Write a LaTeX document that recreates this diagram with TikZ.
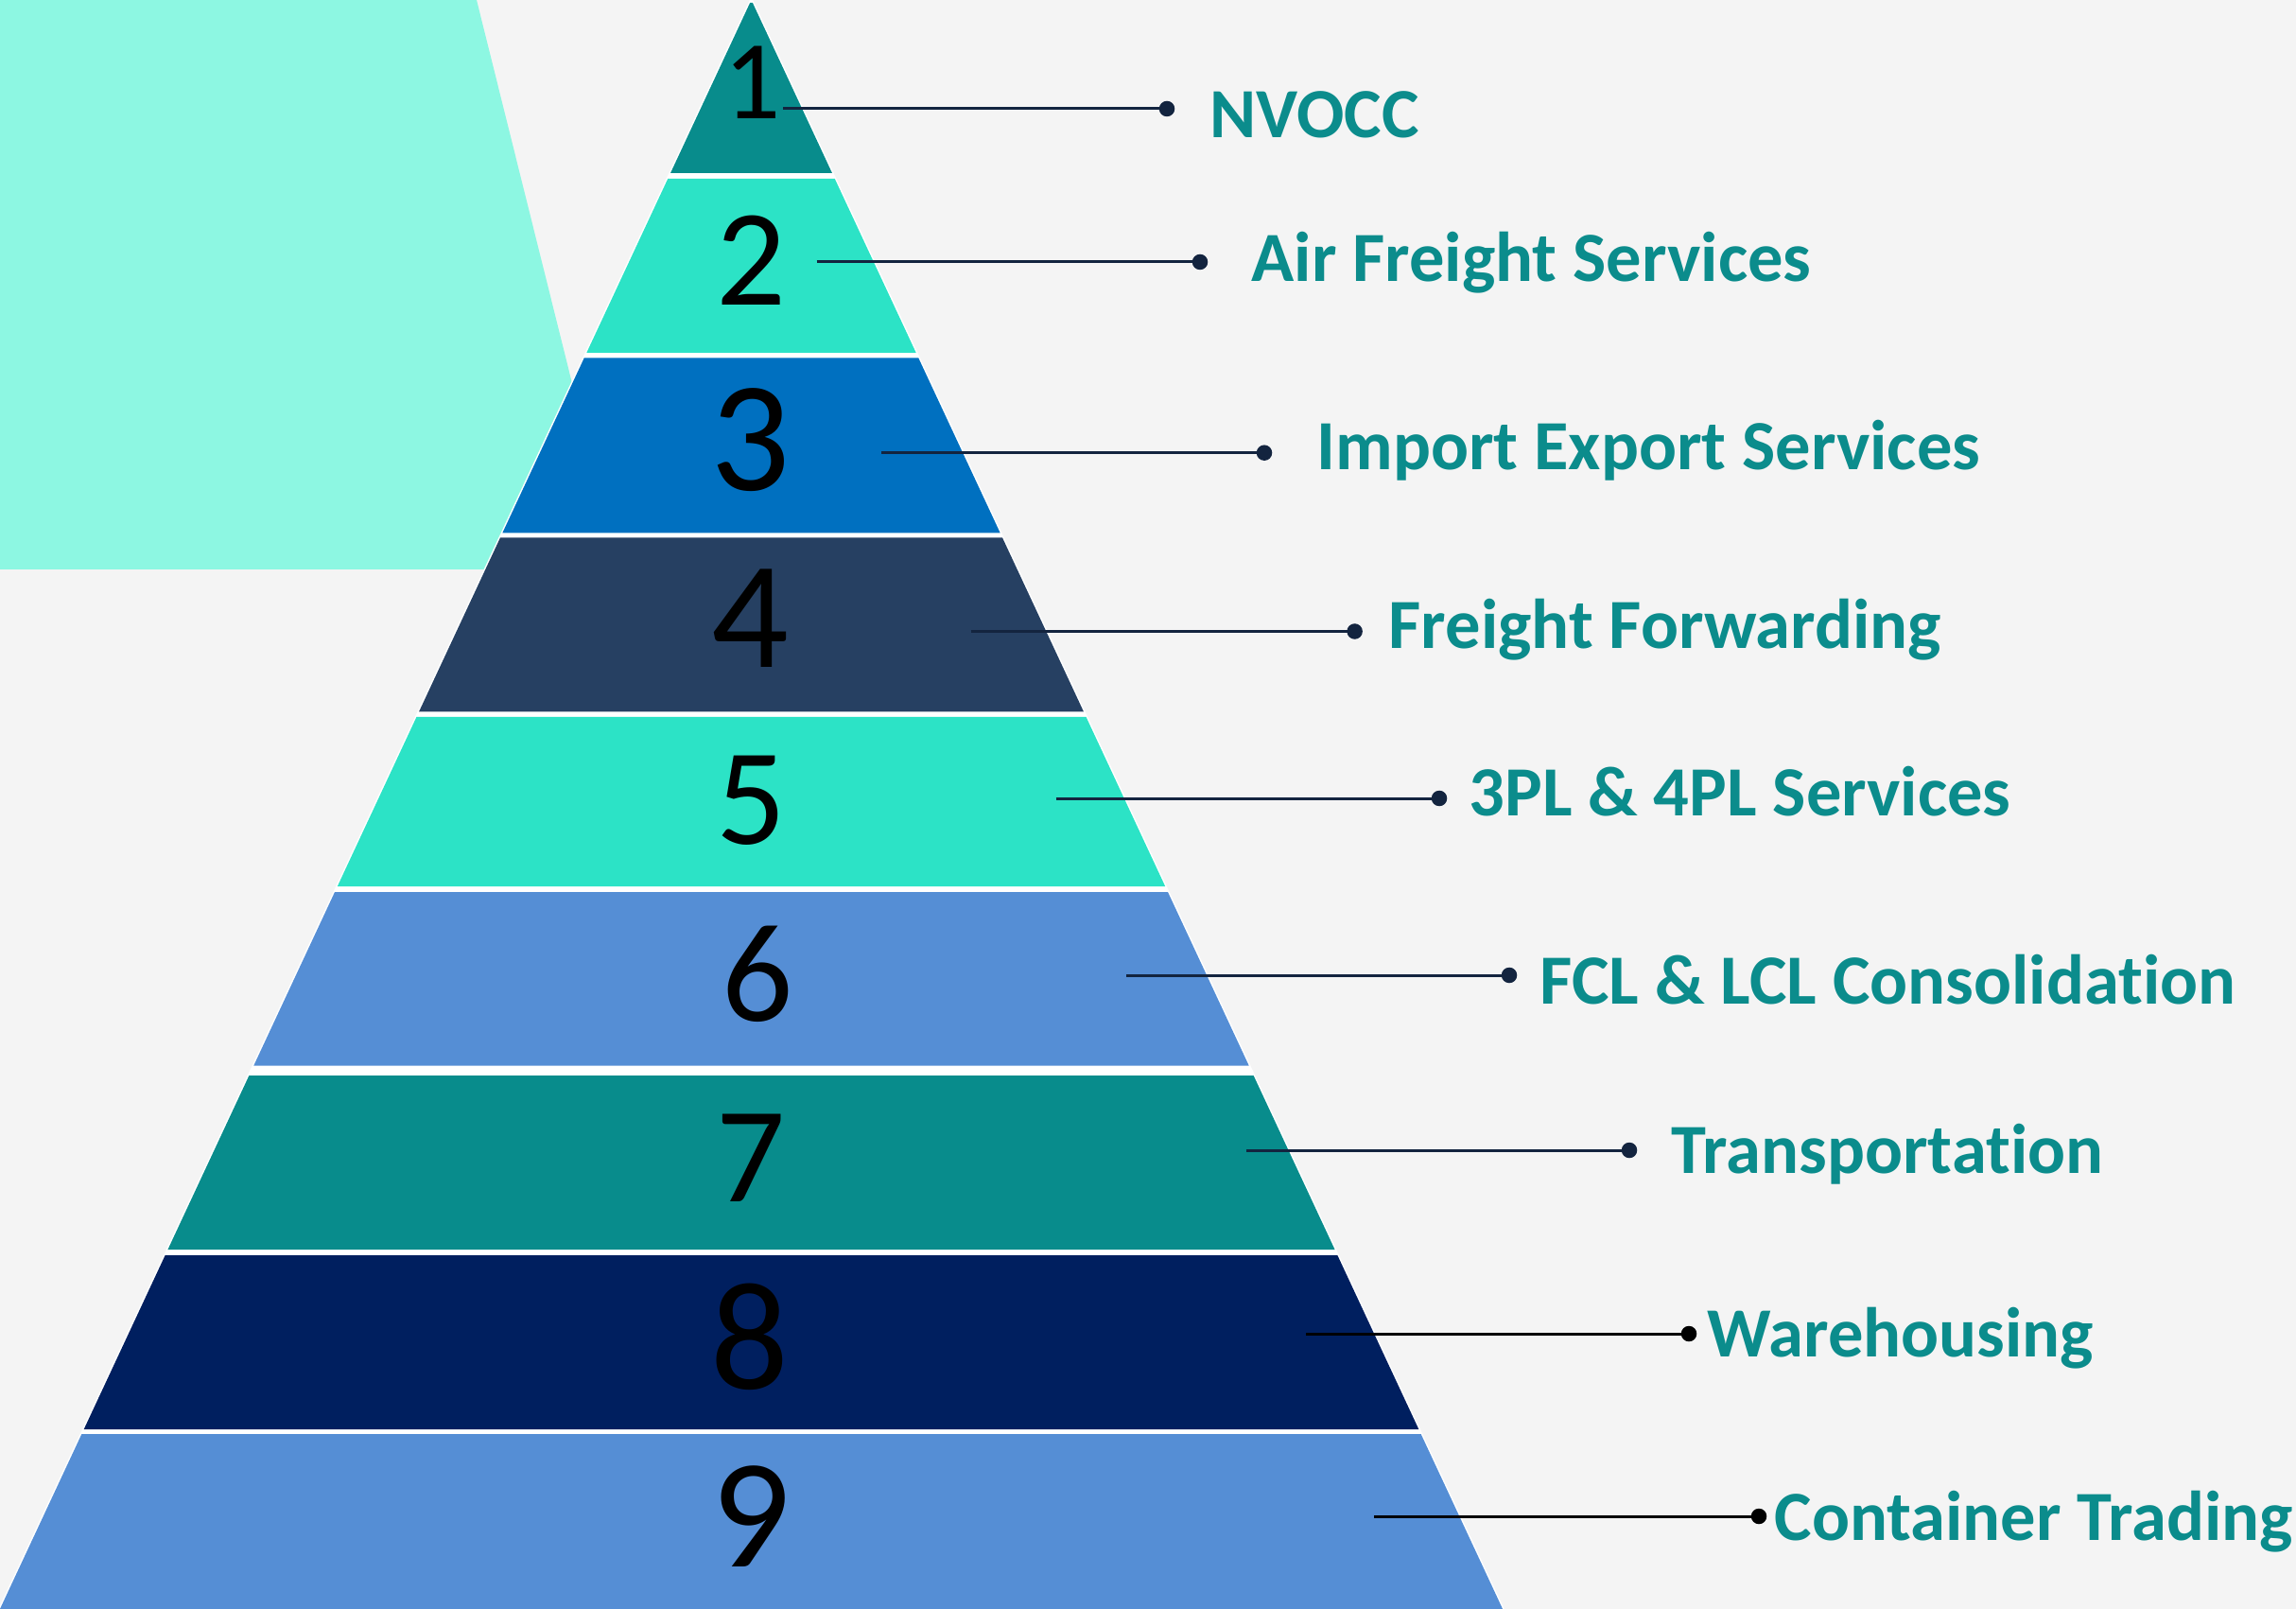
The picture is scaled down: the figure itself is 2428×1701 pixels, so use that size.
\documentclass[tikz,border=0pt]{standalone}
\usepackage{fontspec}
\setmainfont[Ligatures={NoCommon}]{Carlito}
\definecolor{bgc}{HTML}{F4F4F4}
\definecolor{aqua}{HTML}{8DF7E2}
\definecolor{tealc}{HTML}{088C8C}
\definecolor{turq}{HTML}{2CE3C6}
\definecolor{bluec}{HTML}{0070C0}
\definecolor{slatec}{HTML}{264062}
\definecolor{lblue}{HTML}{558ED5}
\definecolor{navyc}{HTML}{001F5F}
\definecolor{lbltxt}{HTML}{0B8C8C}
\definecolor{linec}{HTML}{13243F}
\newcommand\pyrband[3]{\fill[#3] ({794.5-0.4671*#1},#1) -- ({794.5+0.4671*#1},#1) -- ({794.5+0.4671*#2},#2) -- ({794.5-0.4671*#2},#2) -- cycle;}
\begin{document}
\begin{tikzpicture}[x=0.01cm,y=-0.01cm,
  numtxt/.style={inner sep=0pt, text=black},
  lbl/.style={inner sep=0pt, anchor=base west, text=lbltxt, font=\bfseries\fontsize{21.2pt}{25pt}\selectfont},
  dotnode/.style={circle, fill=#1, inner sep=0pt, minimum size=0.165cm},
  conn/.style={draw=#1, line width=0.03cm}]
\fill[bgc] (0,0) rectangle (2428,1701);
\useasboundingbox (0,0) rectangle (2428,1701);
% aqua shape behind pyramid
\fill[aqua] (0,0) -- (504,0) -- (654,602) -- (0,602) -- cycle;
% white pyramid
\filldraw[white, line width=0.03cm] (794.5,0) -- (1589,1701) -- (0,1701) -- cycle;
\pyrband{3}{183}{tealc}
\pyrband{189}{373}{turq}
\pyrband{378.5}{563.5}{bluec}
\pyrband{568.5}{752.5}{slatec}
\pyrband{758}{937}{turq}
\pyrband{943}{1126.5}{lblue}
\pyrband{1137}{1321}{tealc}
\pyrband{1327}{1511}{navyc}
\pyrband{1516}{1701}{lblue}
% numbers
\node[numtxt, font=\fontsize{33.8pt}{40pt}\selectfont] (n1) at (796,87) {1};
\node[numtxt, font=\fontsize{41.4pt}{48pt}\selectfont] (n2) at (794,275) {2};
\node[numtxt, font=\fontsize{47.3pt}{56pt}\selectfont] (n3) at (793.5,465) {3};
\node[numtxt, font=\fontsize{45.9pt}{54pt}\selectfont] (n4) at (793,654) {4};
\node[numtxt, font=\fontsize{41.4pt}{48pt}\selectfont] (n5) at (794,846) {5};
\node[numtxt, font=\fontsize{42.3pt}{50pt}\selectfont] (n6) at (801,1030) {6};
\node[numtxt, font=\fontsize{41pt}{48pt}\selectfont] (n7) at (794,1224.5) {7};
\node[numtxt, font=\fontsize{46.4pt}{54pt}\selectfont] (n8) at (793,1413) {8};
\node[numtxt, font=\fontsize{46.8pt}{54pt}\selectfont] (n9) at (794.5,1603) {9};
% connector start points and dots
\coordinate (s1) at (828,115);
\coordinate (s2) at (863.5,277);
\coordinate (s3) at (932,478.7);
\coordinate (s4) at (1026.7,667.5);
\coordinate (s5) at (1116.6,844);
\coordinate (s6) at (1191,1031);
\coordinate (s7) at (1318,1216);
\coordinate (s8) at (1381,1410);
\coordinate (s9) at (1453,1603);
\node[dotnode=linec] (d1) at (1234,115) {};
\node[dotnode=linec] (d2) at (1269,277) {};
\node[dotnode=linec] (d3) at (1337,478.7) {};
\node[dotnode=linec] (d4) at (1432.6,667.5) {};
\node[dotnode=linec] (d5) at (1522,844) {};
\node[dotnode=linec] (d6) at (1596,1031) {};
\node[dotnode=linec] (d7) at (1723,1216) {};
\node[dotnode=black] (d8) at (1786,1410) {};
\node[dotnode=black] (d9) at (1860,1603) {};
\draw[conn=linec] (s1) -- (d1.center);
\draw[conn=linec] (s2) -- (d2.center);
\draw[conn=linec] (s3) -- (d3.center);
\draw[conn=linec] (s4) -- (d4.center);
\draw[conn=linec] (s5) -- (d5.center);
\draw[conn=linec] (s6) -- (d6.center);
\draw[conn=linec] (s7) -- (d7.center);
\draw[conn=black] (s8) -- (d8.center);
\draw[conn=black] (s9) -- (d9.center);
% labels
\node[lbl] (l1) at (1279,146) {NVOCC};
\node[lbl] (l2) at (1323,297.7) {Air Freight Services};
\node[lbl] (l3) at (1392,496.3) {Import Export Services};
\node[lbl] (l4) at (1468,686) {Freight Forwarding};
\node[lbl] (l5) at (1553,863) {3PL \& 4PL Services};
\node[lbl] (l6) at (1628,1061) {FCL \& LCL Consolidation};
\node[lbl] (l7) at (1767,1240) {Transportation};
\node[lbl] (l8) at (1805,1434) {Warehousing};
\node[lbl] (l9) at (1876,1628) {Container Trading};
\end{tikzpicture}
\end{document}
